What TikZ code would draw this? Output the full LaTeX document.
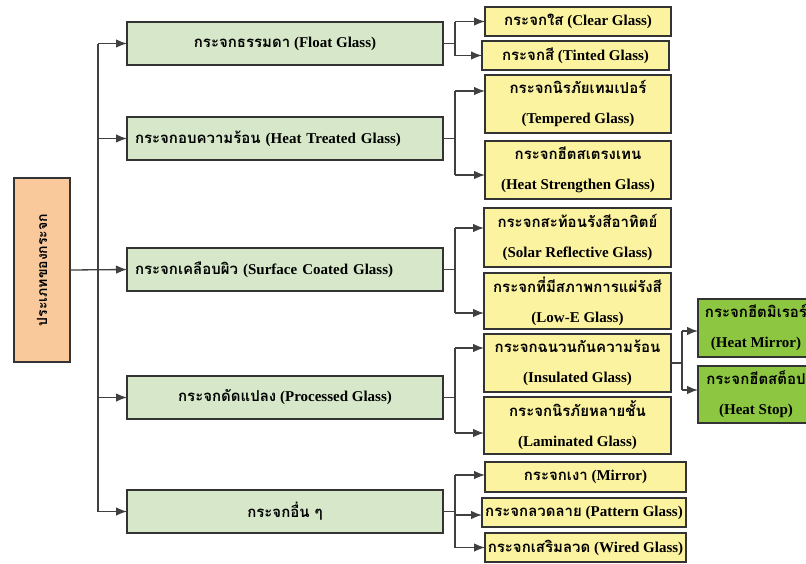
\documentclass[tikz,border=0pt]{standalone}
\usepackage{fontspec}
\setmainfont{Liberation Serif}
\newfontfamily\thaifont[Script=Thai]{Loma}
\usetikzlibrary{arrows.meta}
\definecolor{gfill}{HTML}{D6E8C9}
\definecolor{yfill}{HTML}{FCF3A0}
\definecolor{ofill}{HTML}{F9C99C}
\definecolor{dgfill}{HTML}{8DC641}
\definecolor{edgec}{HTML}{333333}
\definecolor{wirec}{HTML}{404040}
\newcommand{\tht}[1]{{\thaifont #1}}
\begin{document}
\begin{tikzpicture}[x=1pt,y=-1pt,
  box/.style={draw=edgec, line width=1.4pt, inner sep=0pt, outer sep=0pt, anchor=north west, align=center, font=\bfseries\fontsize{15}{18}\selectfont},
  gbox/.style={box, fill=gfill, minimum width=316pt, minimum height=43pt},
  ybox/.style={box, fill=yfill, minimum width=186pt},
  twoline/.style={font=\bfseries\fontsize{15}{30}\selectfont},
  dbox/.style={box, fill=dgfill, minimum width=116pt, twoline},
  wire/.style={draw=wirec, line width=1.3pt},
  arr/.style={wire, -{Latex[length=11pt,width=8.5pt]}},
]
\useasboundingbox (0,0) rectangle (806,563);
\clip (0,0) rectangle (806,563);
\fill[white] (0,0) rectangle (806,563);

% root
\node[box, fill=ofill, minimum width=56pt, minimum height=184pt] (root) at (14,178) {};
\node[rotate=90, font=\bfseries\fontsize{14}{16}\selectfont] (roottxt) at (root.center) {\tht{ประเภทของกระจก}};

% level 1
\node[gbox] (float) at (127,22) {\tht{กระจกธรรมดา} (Float Glass)};
\node[gbox, text width=300pt, align=left] (heat) at (127,117) {\tht{กระจกอบความร้อน} (Heat Treated Glass)};
\node[gbox, text width=300pt, align=left] (surf) at (127,248) {\tht{กระจกเคลือบผิว} (Surface Coated Glass)};
\node[gbox] (proc) at (127,376) {\tht{กระจกดัดแปลง} (Processed Glass)};
\node[gbox] (other) at (127,490) {\tht{กระจกอื่น ๆ}};

% level 2
\node[ybox, minimum height=29pt] (clear) at (485,7) {\tht{กระจกใส} (Clear Glass)};
\node[ybox, minimum height=29pt, minimum width=187pt] (tinted) at (482,41) {\tht{กระจกสี} (Tinted Glass)};
\node[ybox, twoline, minimum height=58pt] (temp) at (485,75) {\tht{กระจกนิรภัยเทมเปอร์}\\(Tempered Glass)};
\node[ybox, twoline, minimum height=58pt] (hs) at (485,141) {\tht{กระจกฮีตสเตรงเทน}\\(Heat Strengthen Glass)};
\node[ybox, twoline, minimum height=59pt, minimum width=187pt] (solar) at (484,208) {\tht{กระจกสะท้อนรังสีอาทิตย์}\\(Solar Reflective Glass)};
\node[ybox, twoline, minimum height=56pt, minimum width=187pt] (lowe) at (484,273) {\tht{กระจกที่มีสภาพการแผ่รังสี}\\(Low-E Glass)};
\node[ybox, twoline, minimum height=58pt, minimum width=187pt] (ins) at (484,334) {\tht{กระจกฉนวนกันความร้อน}\\(Insulated Glass)};
\node[ybox, twoline, minimum height=57pt, minimum width=187pt] (lam) at (484,397) {\tht{กระจกนิรภัยหลายชั้น}\\(Laminated Glass)};
\node[ybox, minimum height=30pt, minimum width=201pt] (mirror) at (485,462) {\tht{กระจกเงา} (Mirror)};
\node[ybox, minimum height=29pt, minimum width=204pt] (pattern) at (482,498) {\tht{กระจกลวดลาย} (Pattern Glass)};
\node[ybox, minimum height=29pt, minimum width=201pt] (wired) at (485,533) {\tht{กระจกเสริมลวด} (Wired Glass)};

% level 3
\node[dbox, minimum height=58pt] (hm) at (698,299) {\tht{กระจกฮีตมิเรอร์}\\(Heat Mirror)};
\node[dbox, minimum height=57pt] (hstop) at (698,366) {\tht{กระจกฮีตสต็อป}\\(Heat Stop)};

% trunk
\coordinate (trunk) at (98,270);
\coordinate (bx) at (455,0);
\coordinate (bx2) at (682,0);
\draw[wire] (trunk |- float.west) -- (trunk |- other.west);
\draw[arr] (root.east) -- (surf.west);
\foreach \n in {float,heat,proc,other} \draw[arr] (trunk |- \n.west) -- (\n.west);

% entry points
\coordinate (clear-in) at (clear.west);
\coordinate (tinted-in) at (tinted.west);
\coordinate (temp-in) at ([yshift=13pt]temp.west);
\coordinate (hs-in) at ([yshift=-5pt]hs.west);
\coordinate (solar-in) at ([yshift=9.5pt]solar.west);
\coordinate (lowe-in) at ([yshift=-12pt]lowe.west);
\coordinate (ins-in) at ([yshift=15pt]ins.west);
\coordinate (lam-in) at ([yshift=-7.5pt]lam.west);
\coordinate (mirror-in) at ([yshift=2pt]mirror.west);
\coordinate (pattern-in) at ([yshift=-2.5pt]pattern.west);
\coordinate (wired-in) at (wired.west);
\coordinate (hm-in) at ([yshift=-3pt]hm.west);
\coordinate (hstop-in) at ([yshift=4.5pt]hstop.west);

% brackets
\draw[wire] (float.east) -- (bx |- float.east);
\draw[wire] (bx |- clear-in) -- (bx |- tinted-in);
\draw[wire] (heat.east) -- (bx |- heat.east);
\draw[wire] (bx |- temp-in) -- (bx |- hs-in);
\draw[wire] (surf.east) -- (bx |- surf.east);
\draw[wire] (bx |- solar-in) -- (bx |- lowe-in);
\draw[wire] (proc.east) -- (bx |- proc.east);
\draw[wire] (bx |- ins-in) -- (bx |- lam-in);
\draw[wire] (other.east) -- (bx |- other.east);
\draw[wire] (bx |- mirror-in) -- (bx |- wired-in);
\foreach \n in {clear,tinted,temp,hs,solar,lowe,ins,lam,mirror,pattern,wired}
  \draw[arr] (bx |- \n-in) -- (\n-in);
\draw[wire] (ins.east) -- (bx2 |- ins.east);
\draw[wire] (bx2 |- hm-in) -- (bx2 |- hstop-in);
\foreach \n in {hm,hstop} \draw[arr] (bx2 |- \n-in) -- (\n-in);
\end{tikzpicture}
\end{document}
